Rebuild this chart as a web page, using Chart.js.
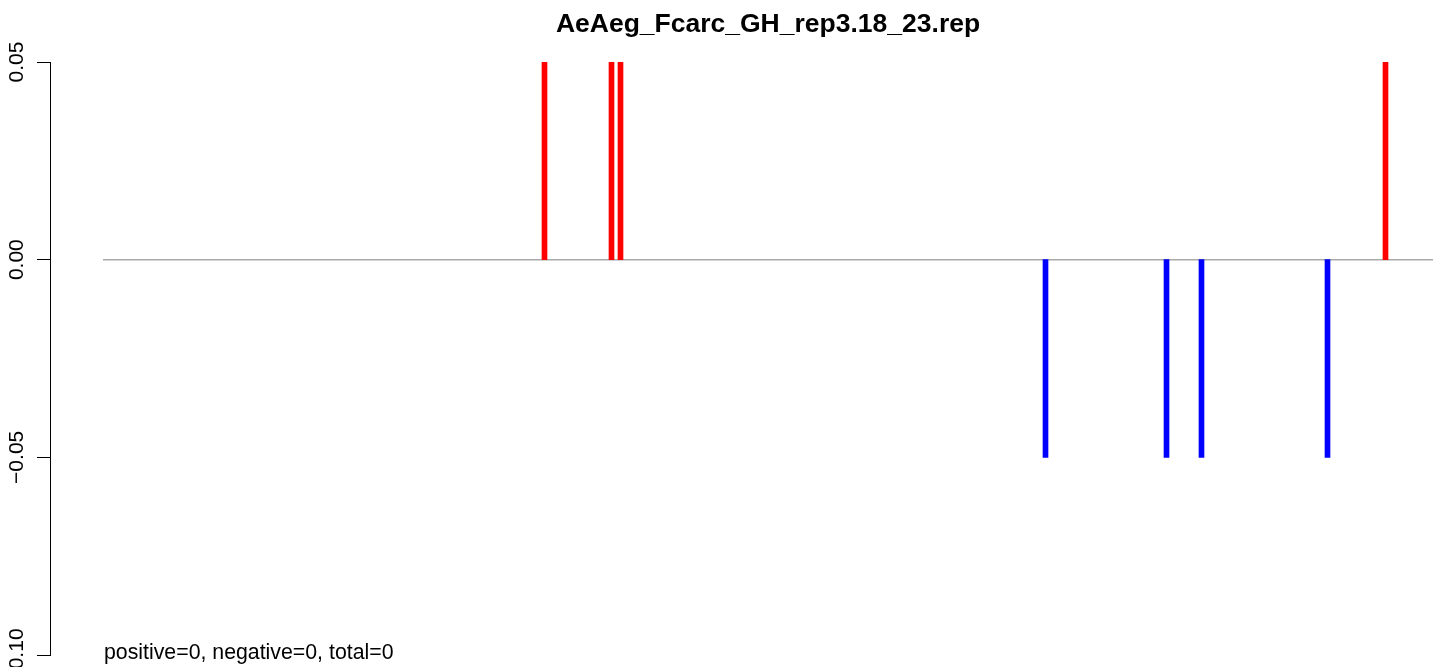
<!DOCTYPE html>
<html>
<head>
<meta charset="utf-8">
<script src="https://cdn.jsdelivr.net/npm/chart.js@4"></script>
<style>
  html, body { margin: 0; padding: 0; background: #fff; }
  canvas { display: block; }
</style>
</head>
<body>
<canvas id="myChart" width="1439" height="667"></canvas>
<script>
// data (x = position along the track)
var positions = [494.5, 561.5, 570.5, 995.5, 1116.5, 1151.5, 1277.5, 1335.5];
var values = [0.05, 0.05, 0.05, -0.05, -0.05, -0.05, -0.05, 0.05];
var trackStart = 53;
var trackEnd = 1383;
var yTicks = [0.05, 0.0, -0.05, -0.1];
var yTickLabels = ["0.05", "0.00", "\u22120.05", "\u22120.10"];
var titleText = "AeAeg_Fcarc_GH_rep3.18_23.rep";
var noteText = "positive=0, negative=0, total=0";

var FONT = "'Liberation Sans', Arial, Helvetica, sans-serif";

var barData = positions.map(function (p, i) { return { x: p, y: values[i] }; });
var barColors = values.map(function (v) { return v > 0 ? "#ff0000" : "#0000ff"; });

// R-style texts: title, rotated tick labels, note at the bottom
var textPlugin = {
  id: "rtext",
  afterDraw: function (chart) {
    var c = chart.ctx;
    var y = chart.scales.y;
    c.save();
    c.fillStyle = "#000";
    c.font = "bold 26.5px " + FONT;
    c.textAlign = "center";
    c.textBaseline = "alphabetic";
    c.fillText(titleText, 768, 32);

    c.font = "21px " + FONT;
    yTicks.forEach(function (t, i) {
      c.save();
      c.translate(23, y.getPixelForValue(t));
      c.rotate(-Math.PI / 2);
      c.textAlign = "center";
      c.fillText(yTickLabels[i], 0, 0);
      c.restore();
    });

    c.font = "21.3px " + FONT;
    c.textAlign = "left";
    c.fillText(noteText, 104, 659);
    c.restore();
  }
};

var ctx = document.getElementById("myChart").getContext("2d");
var chart = new Chart(ctx, {
  type: "bar",
  data: {
    datasets: [
      {
        label: "hits",
        data: barData,
        backgroundColor: barColors,
        borderWidth: 0,
        barThickness: 5,
        order: 1
      },
      {
        type: "line",
        label: "track",
        data: [{ x: trackStart, y: 0 }, { x: trackEnd, y: 0 }],
        borderColor: "#a9a9a9",
        borderWidth: 1.5,
        pointRadius: 0,
        order: 2
      }
    ]
  },
  plugins: [textPlugin],
  options: {
    responsive: false,
    animation: false,
    layout: { padding: { top: 62, bottom: 12, left: 0, right: 0 } },
    plugins: {
      legend: { display: false },
      title: { display: false },
      tooltip: { enabled: false }
    },
    scales: {
      x: {
        type: "linear",
        min: 0,
        max: 1389,
        offset: false,
        display: false
      },
      y: {
        min: -0.1,
        max: 0.05,
        ticks: { stepSize: 0.05, color: "rgba(0,0,0,0)" },
        grid: { drawOnChartArea: false, tickLength: 13, color: "#000", lineWidth: 1 },
        border: { display: true, color: "#000", width: 1 },
        afterFit: function (scale) { scale.width = 50; }
      }
    }
  }
});
</script>
</body>
</html>
